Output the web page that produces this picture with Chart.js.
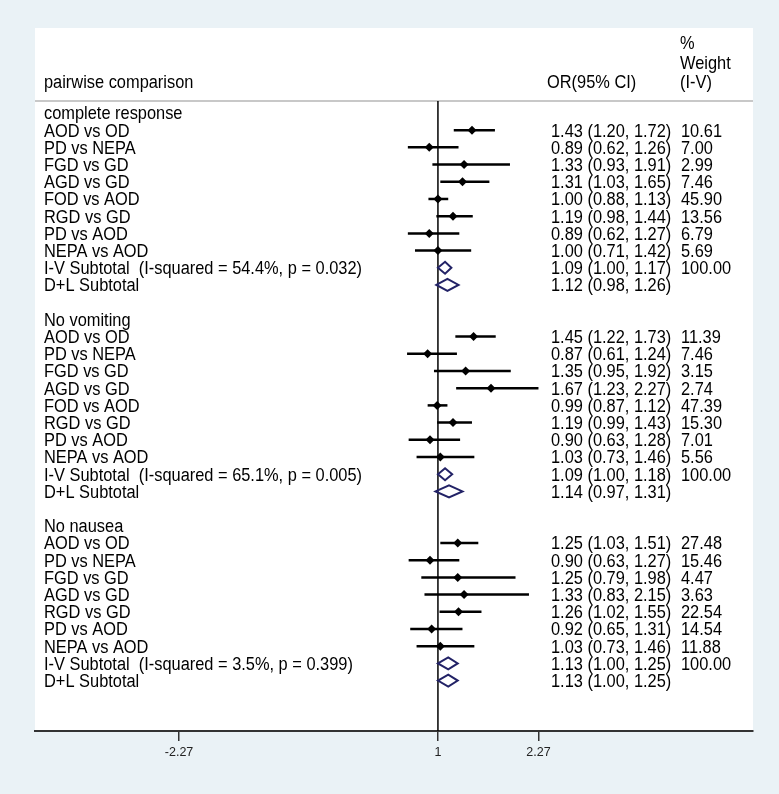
<!DOCTYPE html>
<html>
<head>
<meta charset="utf-8">
<script src="https://cdn.jsdelivr.net/npm/chart.js@4"></script>
<style>
  body { margin: 0; background: #eaf2f6; }
  #wrap { width: 779px; height: 794px; }
</style>
</head>
<body>
<div id="wrap"><canvas id="forestChart" width="779" height="794"></canvas></div>
<script>
// complete response
const crLabels = ['AOD vs OD', 'PD vs NEPA', 'FGD vs GD', 'AGD vs GD', 'FOD vs AOD', 'RGD vs GD', 'PD vs AOD', 'NEPA vs AOD'];
const crOR = [1.43, 0.89, 1.33, 1.31, 1.00, 1.19, 0.89, 1.00];
const crLow = [1.20, 0.62, 0.93, 1.03, 0.88, 0.98, 0.62, 0.71];
const crHigh = [1.72, 1.26, 1.91, 1.65, 1.13, 1.44, 1.27, 1.42];
const crWeight = [10.61, 7.00, 2.99, 7.46, 45.90, 13.56, 6.79, 5.69];
const crIV = [1.09, 1.00, 1.17];
const crDL = [1.12, 0.98, 1.26];
const crHet = [54.4, 0.032];

// No vomiting
const nvLabels = ['AOD vs OD', 'PD vs NEPA', 'FGD vs GD', 'AGD vs GD', 'FOD vs AOD', 'RGD vs GD', 'PD vs AOD', 'NEPA vs AOD'];
const nvOR = [1.45, 0.87, 1.35, 1.67, 0.99, 1.19, 0.90, 1.03];
const nvLow = [1.22, 0.61, 0.95, 1.23, 0.87, 0.99, 0.63, 0.73];
const nvHigh = [1.73, 1.24, 1.92, 2.27, 1.12, 1.43, 1.28, 1.46];
const nvWeight = [11.39, 7.46, 3.15, 2.74, 47.39, 15.30, 7.01, 5.56];
const nvIV = [1.09, 1.00, 1.18];
const nvDL = [1.14, 0.97, 1.31];
const nvHet = [65.1, 0.005];

// No nausea
const nnLabels = ['AOD vs OD', 'PD vs NEPA', 'FGD vs GD', 'AGD vs GD', 'RGD vs GD', 'PD vs AOD', 'NEPA vs AOD'];
const nnOR = [1.25, 0.90, 1.25, 1.33, 1.26, 0.92, 1.03];
const nnLow = [1.03, 0.63, 0.79, 0.83, 1.02, 0.65, 0.73];
const nnHigh = [1.51, 1.27, 1.98, 2.15, 1.55, 1.31, 1.46];
const nnWeight = [27.48, 15.46, 4.47, 3.63, 22.54, 14.54, 11.88];
const nnIV = [1.13, 1.00, 1.25];
const nnDL = [1.13, 1.00, 1.25];
const nnHet = [3.5, 0.399];

const groupNames = ['complete response', 'No vomiting', 'No nausea'];
const tickVals = [-2.27, 1, 2.27];

const groups = [
    { labels: crLabels, or: crOR, lo: crLow, hi: crHigh, wt: crWeight, iv: crIV, dl: crDL, het: crHet },
    { labels: nvLabels, or: nvOR, lo: nvLow, hi: nvHigh, wt: nvWeight, iv: nvIV, dl: nvDL, het: nvHet },
    { labels: nnLabels, or: nnOR, lo: nnLow, hi: nnHigh, wt: nnWeight, iv: nnIV, dl: nnDL, het: nnHet }
];

const fmtCI = (e, l, h) => e.toFixed(2) + ' (' + l.toFixed(2) + ', ' + h.toFixed(2) + ')';

// build the rows, one per text line
const rows = [];
let r = 0;
groups.forEach(function(g, gi) {
    rows.push({ type: 'head', label: groupNames[gi], y: r++ });
    g.labels.forEach(function(lab, i) {
        rows.push({ type: 'study', label: lab, or: g.or[i], lo: g.lo[i], hi: g.hi[i], wt: g.wt[i].toFixed(2), y: r++ });
    });
    rows.push({ type: 'sum', label: 'I-V Subtotal  (I-squared = ' + g.het[0].toFixed(1) + '%, p = ' + g.het[1].toFixed(3) + ')',
        or: g.iv[0], lo: g.iv[1], hi: g.iv[2], wt: '100.00', y: r++ });
    rows.push({ type: 'sum', label: 'D+L Subtotal', or: g.dl[0], lo: g.dl[1], hi: g.dl[2], wt: '', y: r++ });
    r++;
});

const studyPoints = rows.filter(d => d.type === 'study').map(d => ({ x: d.or, y: d.y }));

const FONT = '16.4px "Liberation Sans", Arial, sans-serif';
const SEP_ROW = -0.7;

// text is a little taller than wide in the original
function tallText(ctx, t, x, y) {
    ctx.save();
    ctx.translate(x, y + 1.5);
    ctx.scale(1, 1.1);
    ctx.fillText(t, 0, 0);
    ctx.restore();
}

const forestPlugin = {
    id: 'forest',
    beforeDraw(chart) {
        const { ctx, chartArea: a } = chart;
        const ys = chart.scales.y;
        ctx.save();
        ctx.fillStyle = '#eaf2f6';
        ctx.fillRect(0, 0, chart.width, chart.height);
        ctx.fillStyle = '#ffffff';
        ctx.fillRect(a.left, a.top, a.right - a.left, a.bottom - a.top);
        // header separator
        const sy = ys.getPixelForValue(SEP_ROW);
        ctx.strokeStyle = '#c8c8c8';
        ctx.lineWidth = 2;
        ctx.beginPath();
        ctx.moveTo(a.left, sy);
        ctx.lineTo(a.right, sy);
        ctx.stroke();
        ctx.restore();
    },
    beforeDatasetsDraw(chart) {
        const { ctx, chartArea: a } = chart;
        const xs = chart.scales.x, ys = chart.scales.y;
        ctx.save();
        // null line at OR = 1
        ctx.strokeStyle = '#000';
        ctx.lineWidth = 1.5;
        ctx.beginPath();
        ctx.moveTo(xs.getPixelForValue(1), ys.getPixelForValue(SEP_ROW));
        ctx.lineTo(xs.getPixelForValue(1), a.bottom);
        ctx.stroke();
        // confidence intervals
        ctx.lineWidth = 2.5;
        rows.filter(d => d.type === 'study').forEach(function(d) {
            const y = ys.getPixelForValue(d.y);
            ctx.beginPath();
            ctx.moveTo(xs.getPixelForValue(d.lo), y);
            ctx.lineTo(xs.getPixelForValue(d.hi), y);
            ctx.stroke();
        });
        ctx.restore();
    },
    afterDatasetsDraw(chart) {
        const { ctx, chartArea: a } = chart;
        const xs = chart.scales.x, ys = chart.scales.y;
        ctx.save();
        // pooled diamonds
        ctx.strokeStyle = '#222266';
        ctx.lineWidth = 2;
        rows.filter(d => d.type === 'sum').forEach(function(d) {
            const y = ys.getPixelForValue(d.y);
            const h = 6;
            ctx.beginPath();
            ctx.moveTo(xs.getPixelForValue(d.lo), y);
            ctx.lineTo(xs.getPixelForValue(d.or), y - h);
            ctx.lineTo(xs.getPixelForValue(d.hi), y);
            ctx.lineTo(xs.getPixelForValue(d.or), y + h);
            ctx.closePath();
            ctx.stroke();
        });

        // text columns
        const labX = a.left + 9, ciX = a.left + 516, wtX = a.left + 646;
        ctx.fillStyle = '#000';
        ctx.font = FONT;
        ctx.textBaseline = 'middle';
        ctx.textAlign = 'left';
        tallText(ctx, 'pairwise comparison', labX, ys.getPixelForValue(-1.85));
        tallText(ctx, 'OR(95% CI)', ciX - 4, ys.getPixelForValue(-1.85));
        tallText(ctx, '%', wtX - 1, ys.getPixelForValue(-4.1));
        tallText(ctx, 'Weight', wtX - 1, ys.getPixelForValue(-2.95));
        tallText(ctx, '(I-V)', wtX - 1, ys.getPixelForValue(-1.85));
        rows.forEach(function(d) {
            const y = ys.getPixelForValue(d.y);
            tallText(ctx, d.label, labX, y);
            if (d.type !== 'head') {
                tallText(ctx, fmtCI(d.or, d.lo, d.hi), ciX, y);
                tallText(ctx, d.wt, wtX, y);
            }
        });
        ctx.restore();
    }
};

const ctx = document.getElementById('forestChart');
new Chart(ctx, {
    type: 'scatter',
    data: {
        datasets: [{
            label: 'OR',
            data: studyPoints,
            pointStyle: 'rectRot',
            pointRadius: 4.5,
            pointHoverRadius: 4.5,
            backgroundColor: '#000',
            borderColor: '#000',
            borderWidth: 0
        }]
    },
    options: {
        responsive: false,
        animation: false,
        events: [],
        layout: {
            padding: { left: 35, right: 26, top: 28, bottom: 0 }
        },
        plugins: {
            legend: { display: false },
            tooltip: { enabled: false }
        },
        scales: {
            x: {
                type: 'linear',
                min: -4.09,
                max: 4.98,
                afterBuildTicks: function(scale) {
                    scale.ticks = tickVals.map(v => ({ value: v }));
                },
                afterFit: function(scale) {
                    scale.height = 63;
                },
                grid: {
                    drawOnChartArea: false,
                    drawTicks: true,
                    tickLength: 10,
                    color: '#333',
                    lineWidth: 1.5
                },
                border: { display: true, color: '#333', width: 2 },
                ticks: {
                    autoSkip: false,
                    maxRotation: 0,
                    padding: 4,
                    color: '#222',
                    font: { family: '"Liberation Sans", Arial, sans-serif', size: 12.5 },
                    callback: function(v) { return String(v); }
                }
            },
            y: {
                type: 'linear',
                display: false,
                reverse: true,
                min: -4.94,
                max: 35.93
            }
        }
    },
    plugins: [forestPlugin]
});
</script>
</body>
</html>
